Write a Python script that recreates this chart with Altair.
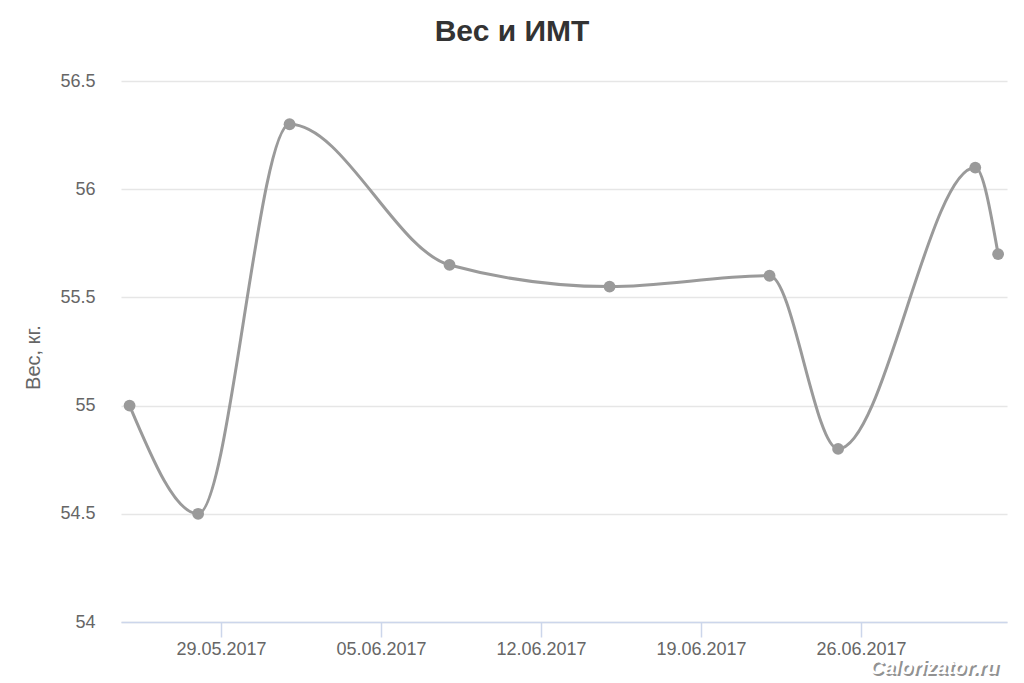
import altair as alt
import pandas as pd

dates = ["2017-05-25", "2017-05-28", "2017-06-01", "2017-06-08", "2017-06-15",
         "2017-06-22", "2017-06-25", "2017-07-01", "2017-07-02"]
weights = [55.0, 54.5, 56.3, 55.65, 55.55, 55.6, 54.8, 56.1, 55.7]
tick_dates = [(2017, 5, 29), (2017, 6, 5), (2017, 6, 12), (2017, 6, 19), (2017, 6, 26)]
y_ticks = [54, 54.5, 55, 55.5, 56, 56.5]

df = pd.DataFrame({"date": dates, "weight": weights})

FONT = "Liberation Sans"
GRAY = "#9a9a9a"

x_enc = alt.X(
    "date:T",
    scale=alt.Scale(
        type="utc",
        domain=[alt.DateTime(year=2017, month=5, date=24, hours=15, utc=True),
                alt.DateTime(year=2017, month=7, date=2, hours=9, minutes=20, utc=True)],
    ),
    axis=alt.Axis(
        title=None,
        values=[alt.DateTime(year=y, month=m, date=d, utc=True) for (y, m, d) in tick_dates],
        format="%d.%m.%Y",
        grid=False,
        domainColor="#ccd6eb",
        domainWidth=1.5,
        tickColor="#ccd6eb",
        tickWidth=1.5,
        tickSize=15,
        labelPadding=3,
        labelFont=FONT,
        labelFontSize=18,
        labelColor="#666666",
    ),
)
y_enc = alt.Y(
    "weight:Q",
    scale=alt.Scale(domain=[54, 56.5], nice=False, zero=False),
    axis=alt.Axis(
        title="Вес, кг.",
        values=y_ticks,
        format="~g",
        domain=False,
        ticks=False,
        tickSize=0,
        labelPadding=26,
        gridColor="#e6e6e6",
        gridWidth=1.5,
        labelFont=FONT,
        labelFontSize=18,
        labelColor="#666666",
        titleFont=FONT,
        titleFontSize=20,
        titleFontWeight="normal",
        titleColor="#666666",
        titleX=-78,
        titleY=276,
    ),
)

line = alt.Chart(df).mark_line(
    interpolate="monotone", color=GRAY, strokeWidth=3
).encode(x=x_enc, y=y_enc)

points = alt.Chart(df).mark_point(
    filled=True, color=GRAY, size=140, opacity=1
).encode(x="date:T", y="weight:Q")

wm_df = pd.DataFrame({"t": ["Calorizator.ru"]})
wm_shadow = alt.Chart(wm_df).mark_text(
    font=FONT, fontSize=20, fontWeight="bold", fontStyle="italic",
    color="#777777", align="center", baseline="middle", opacity=0.8
).encode(text="t:N", x=alt.value(815), y=alt.value(589))
wm_text = alt.Chart(wm_df).mark_text(
    font=FONT, fontSize=20, fontWeight="bold", fontStyle="italic",
    color="#ffffff", align="center", baseline="middle"
).encode(text="t:N", x=alt.value(813), y=alt.value(587))

chart = alt.layer(line, points, wm_shadow, wm_text).properties(
    width=886,
    height=541,
    background="#ffffff",
    title=alt.TitleParams(
        text="Вес и ИМТ",
        font=FONT,
        fontSize=30,
        fontWeight="bold",
        color="#333333",
        anchor="middle",
        dx=-52,
        offset=25,
    ),
    autosize=alt.AutoSizeParams(type="none"),
    padding={"left": 113, "top": 73, "right": 9, "bottom": 60},
).configure_view(stroke=None)

chart.save("out.html", embed_options={"renderer": "svg", "actions": False})
